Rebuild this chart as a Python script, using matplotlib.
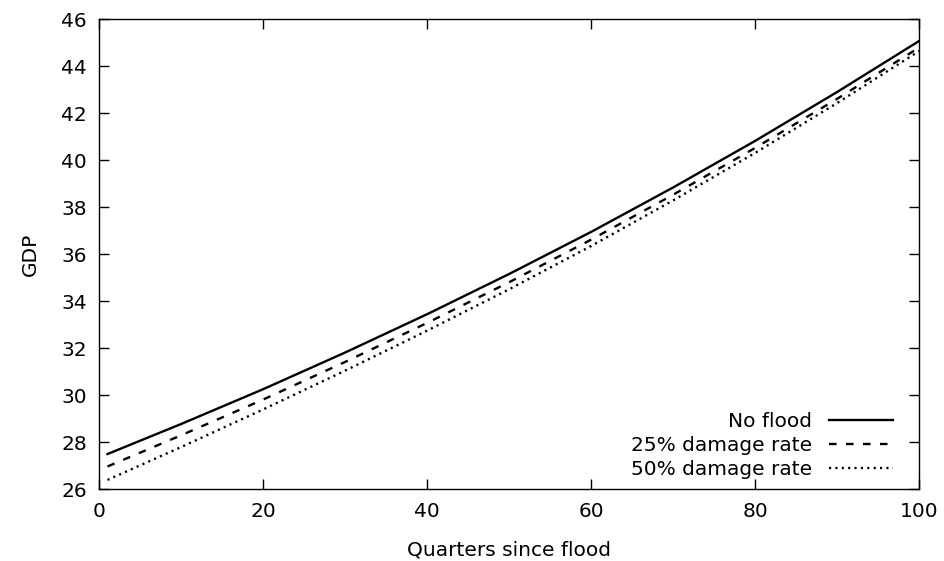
import matplotlib
matplotlib.use('Agg')
import matplotlib.pyplot as plt

# Quarters since flood (values read at these points)
quarters = [1, 10, 20, 30, 40, 50, 60, 70, 80, 90, 100]

gdp_no_flood = [27.50, 28.78, 30.26, 31.82, 33.45, 35.16, 36.95, 38.84, 40.82, 42.90, 45.07]
gdp_damage_25 = [26.97, 28.30, 29.82, 31.42, 33.08, 34.81, 36.62, 38.53, 40.52, 42.61, 44.79]
gdp_damage_50 = [26.40, 27.80, 29.40, 31.05, 32.75, 34.51, 36.35, 38.29, 40.31, 42.43, 44.64]

x_ticks = [0, 20, 40, 60, 80, 100]
y_ticks = [26, 28, 30, 32, 34, 36, 38, 40, 42, 44, 46]

plt.rcParams['font.family'] = 'DejaVu Sans'
plt.rcParams['font.size'] = 14.5

fig = plt.figure(figsize=(9.44, 5.61), dpi=100)
ax = fig.add_axes([0.1052, 0.1278, 0.8686, 0.8383])

ax.plot(quarters, gdp_no_flood, color='black', lw=1.7, linestyle='-', label='No flood')
ax.plot(quarters, gdp_damage_25, color='black', lw=1.7, linestyle=(0, (3.2, 4.0)),
        label='25% damage rate')
ax.plot(quarters, gdp_damage_50, color='black', lw=1.7, linestyle=(0, (0.9, 1.8)),
        label='50% damage rate')

ax.set_xlim(0, 100)
ax.set_ylim(26, 46)
ax.set_xticks(x_ticks)
ax.set_yticks(y_ticks)
ax.tick_params(direction='in', length=7, width=1, top=True, right=True, pad=9)
for spine in ax.spines.values():
    spine.set_linewidth(1.0)

ax.set_xlabel('Quarters since flood', labelpad=14)
ax.set_ylabel('GDP', labelpad=15)

ax.legend(loc='lower right', bbox_to_anchor=(0.968, 0.022), frameon=False,
          markerfirst=False, handlelength=3.2, handletextpad=0.8,
          labelspacing=0.25, borderpad=0, borderaxespad=0)

fig.savefig('out.png', dpi=100)
